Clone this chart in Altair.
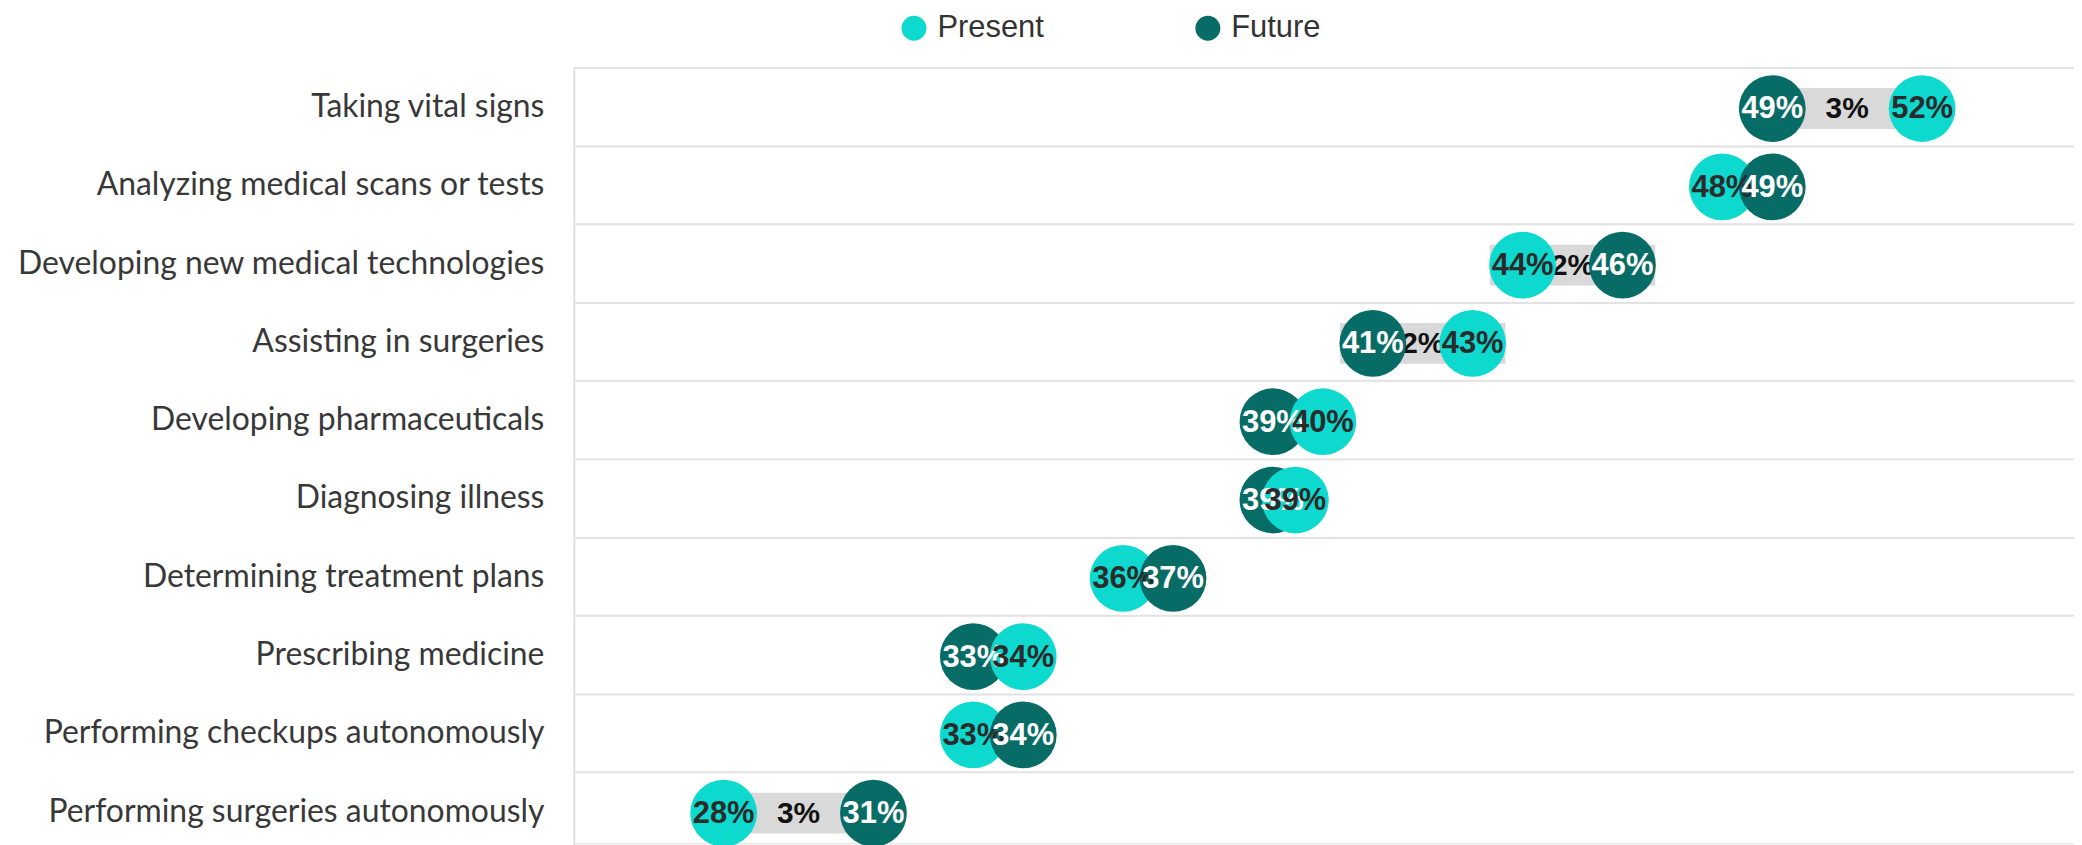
import altair as alt
import pandas as pd

# ---- data ----
tasks = [
    "Taking vital signs",
    "Analyzing medical scans or tests",
    "Developing new medical technologies",
    "Assisting in surgeries",
    "Developing pharmaceuticals",
    "Diagnosing illness",
    "Determining treatment plans",
    "Prescribing medicine",
    "Performing checkups autonomously",
    "Performing surgeries autonomously",
]
present = [52, 48, 44, 43, 40, 39.45, 36, 34, 33, 28]
future = [49, 49, 46, 41, 39, 39, 37, 33, 34, 31]

series_names = ["Present", "Future"]
series_colors = ["#0ed9cf", "#076b66"]
label_colors = ["#2b2b2b", "#ffffff"]

# ---- tables ----
rows = []
for t, p, f in zip(tasks, present, future):
    rows.append({"task": t, "series": "Present", "value": p,
                 "label": f"{round(p)}%", "tcolor": label_colors[0]})
    rows.append({"task": t, "series": "Future", "value": f,
                 "label": f"{round(f)}%", "tcolor": label_colors[1]})
df = pd.DataFrame(rows)

diff_rows = []
for t, p, f in zip(tasks, present, future):
    d = abs(round(p) - round(f))
    if d >= 2:
        diff_rows.append({"task": t, "lo": min(p, f), "hi": max(p, f),
                          "mid": (p + f) / 2, "dlabel": f"{d}%"})
ddf = pd.DataFrame(diff_rows)

px_per_pt = 50.13
plot_w = 1506
xscale = alt.Scale(domain=[25, 25 + plot_w / px_per_pt], nice=False, zero=False)
yscale = alt.Scale(domain=tasks, range=[0, 786], paddingInner=0, paddingOuter=0)

yaxis = alt.Axis(
    title=None, labelFont="Lato", labelFontSize=32, labelColor="#383838",
    labelPadding=30, labelLimit=1000, ticks=False,
    domain=True, domainColor="#e2e2e2", domainWidth=2,
    grid=True, gridColor="#e2e2e2", gridWidth=2, tickBand="extent",
)

base_y = alt.Y("task:N", sort=tasks, scale=yscale, axis=yaxis)

# connector: fixed-width band centred between the two dots
bars = alt.Chart(ddf).mark_bar(
    size=41, color="#d9d9d9", xOffset=-83, x2Offset=83, yOffset=2
).encode(
    x=alt.X("mid:Q", scale=xscale, axis=None),
    x2="mid:Q",
    y=base_y,
)

diff_text = alt.Chart(ddf).mark_text(
    font="Liberation Sans", fontWeight="bold", fontSize=30, color="#111111",
    baseline="middle", dy=3,
).encode(
    x=alt.X("mid:Q", scale=xscale, axis=None),
    y=base_y,
    text="dlabel:N",
)

circles = alt.Chart(df).mark_circle(size=4489, opacity=1, yOffset=2).encode(
    x=alt.X("value:Q", scale=xscale, axis=None),
    y=base_y,
    color=alt.Color(
        "series:N",
        scale=alt.Scale(domain=series_names, range=series_colors),
        legend=alt.Legend(
            orient="none", legendX=326, legendY=-55, direction="horizontal",
            title=None, labelFont="Liberation Sans", labelFontSize=31,
            labelColor="#333333", symbolType="circle", symbolSize=625,
            symbolStrokeWidth=0, symbolOpacity=1, labelOffset=8,
            columnPadding=149, padding=0,
        ),
    ),
    order=alt.Order("value:Q", sort="ascending"),
)

circle_text = alt.Chart(df).mark_text(
    font="Liberation Sans", fontWeight="bold", fontSize=31,
    baseline="middle", dy=3,
).encode(
    x=alt.X("value:Q", scale=xscale, axis=None),
    y=base_y,
    text="label:N",
    color=alt.Color("tcolor:N", scale=None),
    order=alt.Order("value:Q", sort="ascending"),
)

chart = alt.layer(bars, diff_text, circles, circle_text).properties(
    width=plot_w,
    height=779,
    autosize=alt.AutoSizeParams(type="none"),
    padding={"left": 568, "top": 58, "right": 0, "bottom": 0},
).configure_view(stroke=None).configure(background="white")

chart.save("out.html", embed_options={"renderer": "svg", "actions": False})
